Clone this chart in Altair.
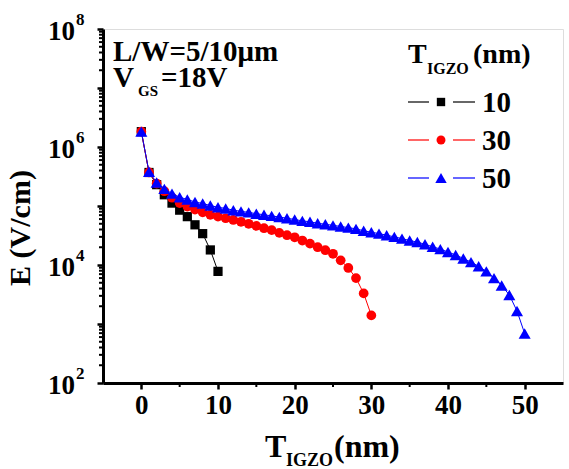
import altair as alt
import pandas as pd

# Electric field across the IGZO layer for three channel thicknesses
t10 = list(range(0, 11))
e10 = [1.82e6, 3.7e5, 2.3e5, 1.55e5, 1.12e5, 8.5e4, 6.6e4, 4.8e4, 3.4e4, 1.8e4, 7.8e3]

t30 = list(range(0, 31))
e30 = [1.82e6, 3.7e5, 2.4e5, 1.78e5, 1.38e5, 1.12e5, 9.8e4, 8.7e4, 7.8e4, 7.1e4,
       6.6e4, 6.2e4, 5.8e4, 5.4e4, 5.0e4, 4.6e4, 4.2e4, 3.9e4, 3.5e4, 3.2e4,
       2.95e4, 2.6e4, 2.3e4, 2.0e4, 1.78e4, 1.55e4, 1.2e4, 8.9e3, 6.0e3, 3.3e3,
       1.4e3]

t50 = list(range(0, 51))
e50 = [1.82e6, 3.8e5, 2.5e5, 1.95e5, 1.62e5, 1.41e5, 1.29e5, 1.17e5, 1.10e5, 1.02e5,
       9.5e4, 9.1e4, 8.5e4, 8.1e4, 7.8e4, 7.4e4, 7.1e4, 6.8e4, 6.5e4, 6.2e4,
       5.9e4, 5.6e4, 5.4e4, 5.1e4, 4.9e4, 4.7e4, 4.5e4, 4.3e4, 4.1e4, 3.8e4,
       3.6e4, 3.4e4, 3.2e4, 3.0e4, 2.8e4, 2.6e4, 2.45e4, 2.24e4, 2.04e4, 1.86e4,
       1.66e4, 1.48e4, 1.29e4, 1.12e4, 9.5e3, 7.8e3, 6.0e3, 4.5e3, 3.1e3, 1.66e3,
       690]

x_ticks = [0, 10, 20, 30, 40, 50]
x_minor = [5, 15, 25, 35, 45]
y_major = [1e2, 1e3, 1e4, 1e5, 1e6, 1e7, 1e8]
y_labels = [1e2, 1e4, 1e6, 1e8]
y_exponents = ["2", "4", "6", "8"]

series = [
    ("10", t10, e10, "#000000", "square"),
    ("30", t30, e30, "#ff0000", "circle"),
    ("50", t50, e50, "#0000ff", "triangle-up"),
]
marker_size = {"square": 85, "circle": 95, "triangle-up": 145}

W, H = 460, 354
FONT = "Liberation Serif"

xs = alt.Scale(domain=[-5, 55], nice=False, zero=False)
ys = alt.Scale(type="log", domain=[1e2, 1e8], nice=False)

x_axis = alt.Axis(values=x_ticks, labelFont=FONT, labelFontSize=27, labelFontWeight="bold",
                  labelColor="black", labelPadding=3, tickSize=6, tickWidth=2.5,
                  tickColor="black", domainColor="black", domainWidth=3, grid=False,
                  title=None)
y_axis = alt.Axis(values=y_major, labels=False, tickSize=6, tickWidth=2.5,
                  tickColor="black", domainColor="black", domainWidth=3, grid=False,
                  title=None)

layers = []
for i, (name, t, e, color, shape) in enumerate(series):
    df = pd.DataFrame({"t": t, "e": e})
    if i == 0:
        xenc = alt.X("t:Q", scale=xs, axis=x_axis)
        yenc = alt.Y("e:Q", scale=ys, axis=y_axis)
    else:
        xenc = alt.X("t:Q", scale=xs)
        yenc = alt.Y("e:Q", scale=ys)
    base = alt.Chart(df).encode(x=xenc, y=yenc)
    layers.append(base.mark_line(color=color, strokeWidth=1))
    layers.append(base.mark_point(shape=shape, filled=True, color=color, opacity=1,
                                  size=marker_size[shape]))

# minor ticks
ymin_vals = [m * 10 ** k for k in range(2, 8) for m in range(2, 10)]
layers.append(alt.Chart(pd.DataFrame({"v": ymin_vals})).mark_rule(color="black", strokeWidth=2)
              .encode(y=alt.Y("v:Q", scale=ys), x=alt.value(-4), x2=alt.value(0)))
layers.append(alt.Chart(pd.DataFrame({"v": x_minor})).mark_rule(color="black", strokeWidth=2)
              .encode(x=alt.X("v:Q", scale=xs), y=alt.value(H), y2=alt.value(H + 4)))

# y tick labels as 10 with a raised exponent
ylab = pd.DataFrame({"v": y_labels, "ex": y_exponents})
layers.append(alt.Chart(ylab).mark_text(font=FONT, fontSize=27, fontWeight="bold",
                                        align="right", baseline="middle", dy=3, color="black")
              .encode(y=alt.Y("v:Q", scale=ys), x=alt.value(-28), text=alt.value("10")))
layers.append(alt.Chart(ylab).mark_text(font=FONT, fontSize=17, fontWeight="bold",
                                        align="left", baseline="middle", dy=-9, color="black")
              .encode(y=alt.Y("v:Q", scale=ys), x=alt.value(-27), text="ex:N"))


def label(txt, x, y, size, align="left", angle=0, baseline="alphabetic", color="black"):
    return alt.Chart(pd.DataFrame({"s": [txt]})).mark_text(
        font=FONT, fontSize=size, fontWeight="bold", align=align, baseline=baseline,
        angle=angle, color=color
    ).encode(x=alt.value(x), y=alt.value(y), text="s:N")


# axis titles
layers.append(label("E (V/cm)", -82, 199, 30, align="center", angle=270, baseline="middle"))
layers.append(label("T", 162, 428, 32))
layers.append(label("IGZO", 183, 437, 18))
layers.append(label("(nm)", 231, 428, 32))

# annotations
layers.append(label("L/W=5/10μm", 10, 32, 29))
layers.append(label("V", 10, 58, 29))
layers.append(label("GS", 35, 67, 15))
layers.append(label("=18V", 58, 58, 29))

# legend
layers.append(label("T", 305, 34, 28))
layers.append(label("IGZO", 324, 45, 16))
layers.append(label("(nm)", 370, 34, 28))
for k, (name, t, e, color, shape) in enumerate(series):
    yy = 73 + 38 * k
    for a, b in ((305, 326), (350, 372)):
        layers.append(alt.Chart(pd.DataFrame({"s": [name]})).mark_rule(color=color, strokeWidth=1.2)
                      .encode(x=alt.value(a), x2=alt.value(b), y=alt.value(yy)))
    layers.append(alt.Chart(pd.DataFrame({"s": [name]})).mark_point(
        shape=shape, filled=True, color=color, opacity=1,
        size=marker_size[shape] - 15).encode(x=alt.value(338), y=alt.value(yy)))
    layers.append(label(name, 379, yy + 1, 29, baseline="middle"))

chart = alt.layer(*layers).properties(
    width=W, height=H,
    autosize=alt.AutoSizeParams(type="none"),
    padding={"left": 103, "top": 29, "right": 6, "bottom": 86},
).configure_view(stroke="black", strokeWidth=3).configure(background="white")

chart.save("out.html", embed_options={"renderer": "svg", "actions": False})
